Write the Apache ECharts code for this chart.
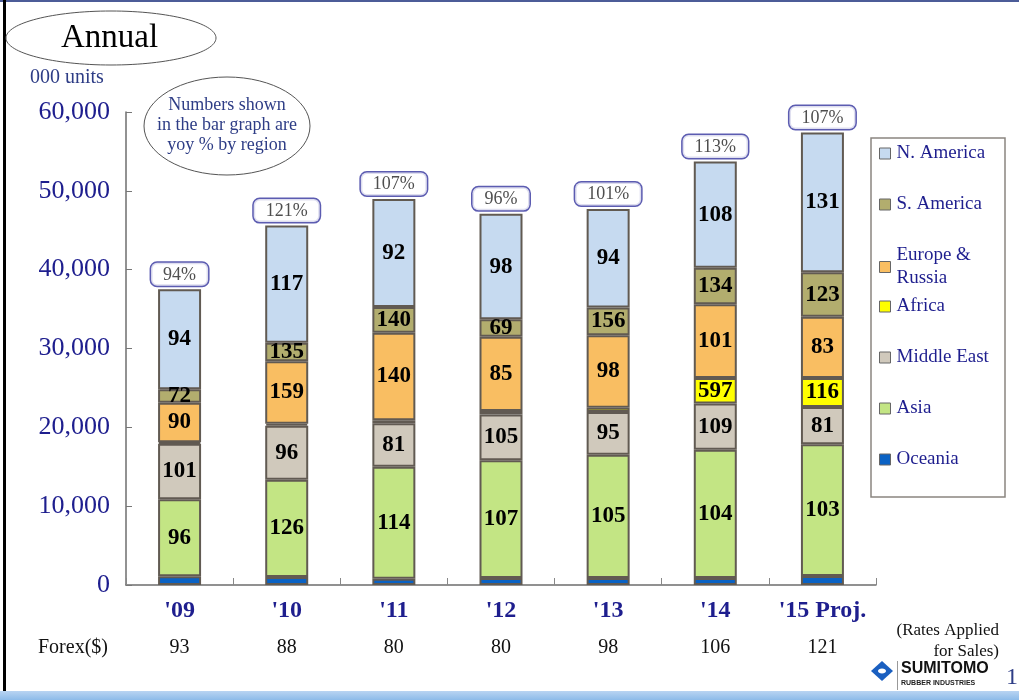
<!DOCTYPE html>
<html>
<head>
<meta charset="utf-8">
<script src="https://cdn.jsdelivr.net/npm/echarts@6/dist/echarts.min.js"></script>
<style>
html,body{margin:0;padding:0;background:#fff;}
#c{width:1019px;height:700px;}
</style>
</head>
<body>
<div id="c"></div>
<script>
// ---- data (000 units) ----
var years = ["'09", "'10", "'11", "'12", "'13", "'14", "'15 Proj."];
var forex = ["93", "88", "80", "80", "98", "106", "121"];
var oceania  = [1100, 1000, 800, 900, 900, 900, 1150];
var asia     = [9770, 12360, 14200, 14910, 15630, 16270, 16690];
var midEast  = [7050, 6840, 5530, 5810, 5410, 5850, 4740];
var africa   = [200, 250, 380, 460, 550, 3250, 3690];
var europe   = [5000, 7940, 11080, 9410, 9190, 9330, 7750];
var sAmerica = [1700, 2330, 3260, 2210, 3520, 4650, 5640];
var nAmerica = [12690, 14870, 13720, 13380, 12490, 13470, 17740];
// yoy % labels by region
var yoyAsia     = [96, 126, 114, 107, 105, 104, 103];
var yoyMidEast  = [101, 96, 81, 105, 95, 109, 81];
var yoyAfrica   = [null, null, null, null, null, 597, 116];
var yoyEurope   = [90, 159, 140, 85, 98, 101, 83];
var yoySAmerica = [72, 135, 140, 69, 156, 134, 123];
var yoyNAmerica = [94, 117, 92, 98, 94, 108, 131];
var yoyTotal    = [94, 121, 107, 96, 101, 113, 107];
var yTicks = [0, 10000, 20000, 30000, 40000, 50000, 60000];

var SERIF = "'Liberation Serif', 'DejaVu Serif', serif";
var NAVY = '#1e1e8e';
var colors = {
  'Oceania': '#0a62c4', 'Asia': '#c3e584', 'Middle East': '#d0c9bc',
  'Africa': '#ffff00', 'Europe & Russia': '#f9be62', 'S. America': '#b2ad6e',
  'N. America': '#c6daf0'
};

var totals = years.map(function (_, i) {
  return oceania[i] + asia[i] + midEast[i] + africa[i] + europe[i] + sAmerica[i] + nAmerica[i];
});

function seg(name, data, yoy) {
  return {
    name: name, type: 'bar', stack: 'all', data: data, barWidth: 43,
    itemStyle: { color: colors[name], borderColor: '#615a52', borderWidth: 2 },
    label: {
      show: !!yoy, position: 'inside', color: '#000', fontFamily: SERIF,
      fontWeight: 'bold', fontSize: 23,
      formatter: function (p) { var v = yoy ? yoy[p.dataIndex] : null; return v == null ? '' : String(v); }
    },
    emphasis: { disabled: true }
  };
}

var series = [
  seg('Oceania', oceania, null),
  seg('Asia', asia, yoyAsia),
  seg('Middle East', midEast, yoyMidEast),
  seg('Africa', africa, yoyAfrica),
  seg('Europe & Russia', europe, yoyEurope),
  seg('S. America', sAmerica, yoySAmerica),
  seg('N. America', nAmerica, yoyNAmerica),
  {
    name: 'total', type: 'scatter', data: totals, symbolSize: 1, z: 10,
    itemStyle: { color: 'rgba(0,0,0,0)' },
    label: {
      show: true, position: 'top', distance: 3,
      formatter: function (p) { return yoyTotal[p.dataIndex] + '%'; },
      fontFamily: SERIF, fontSize: 18, color: '#222', lineHeight: 20,
      backgroundColor: '#fff', borderColor: '#33339e', borderWidth: 1.5,
      borderRadius: 6, padding: [2, 12, 1, 12]
    },
    emphasis: { disabled: true }, silent: true
  }
];

var legendOrder = [
  ['N. America', 142], ['S. America', 193], ['Europe & Russia', 244],
  ['Africa', 295], ['Middle East', 346], ['Asia', 397], ['Oceania', 448]
];
var legends = legendOrder.map(function (it) {
  return {
    data: [it[0]], left: 879, top: it[1], orient: 'vertical', padding: 0,
    itemWidth: 11, itemHeight: 11, icon: 'rect', selectedMode: false,
    itemStyle: { borderColor: '#666', borderWidth: 1 },
    textStyle: { fontFamily: SERIF, fontSize: 19, color: NAVY, lineHeight: 23, padding: [0, 0, 0, 1] },
    formatter: function (n) { return n === 'Europe & Russia' ? 'Europe &\nRussia' : n; }
  };
});

var chart = echarts.init(document.getElementById('c'));
chart.setOption({
  backgroundColor: '#fff',
  animation: false,
  grid: { left: 126, right: 143, top: 112, bottom: 115, containLabel: false },
  legend: legends,
  xAxis: [{
    type: 'category', data: years, position: 'bottom',
    axisLine: { lineStyle: { color: '#6e6e6e', width: 1.5 } },
    axisTick: { show: true, inside: true, length: 7, lineStyle: { color: '#888' } },
    axisLabel: { color: NAVY, fontFamily: SERIF, fontWeight: 'bold', fontSize: 24, margin: 14, interval: 0 }
  }, {
    type: 'category', data: forex, position: 'bottom', offset: 53,
    axisLine: { show: false }, axisTick: { show: false },
    axisLabel: { color: '#111', fontFamily: SERIF, fontSize: 20, margin: 0, interval: 0 }
  }],
  yAxis: {
    type: 'value', min: yTicks[0], max: yTicks[yTicks.length - 1], interval: 10000,
    splitLine: { show: false },
    axisLine: { show: true, lineStyle: { color: '#6e6e6e', width: 1.5 } },
    axisTick: { show: true, inside: true, length: 6, lineStyle: { color: '#777' } },
    axisLabel: {
      color: NAVY, fontFamily: SERIF, fontSize: 26, margin: 16,
      formatter: function (v) { return v.toLocaleString('en-US'); }
    }
  },
  series: series,
  graphic: [
    // frame
    { type: 'rect', shape: { x: 0, y: 0, width: 1019, height: 2 }, style: { fill: '#4c5c98' } },
    { type: 'rect', shape: { x: 3, y: 0, width: 3, height: 700 }, style: { fill: '#000' } },
    { type: 'rect', shape: { x: 0, y: 691, width: 1019, height: 9 },
      style: { fill: new echarts.graphic.LinearGradient(0, 0, 0, 1, [{ offset: 0, color: '#b9d4f2' }, { offset: 1, color: '#8dbbe9' }]) } },
    // title ellipse
    { type: 'ellipse', shape: { cx: 111, cy: 38, rx: 105, ry: 27 }, style: { fill: '#fff', stroke: '#555', lineWidth: 1 } },
    { type: 'text', left: 61, top: 22, style: { text: 'Annual', font: '33px ' + SERIF, fill: '#000' } },
    { type: 'text', left: 30, top: 68, style: { text: '000 units', font: '20px ' + SERIF, fill: '#2e3d86' } },
    // note ellipse
    { type: 'ellipse', shape: { cx: 227, cy: 126, rx: 83, ry: 49 }, style: { fill: '#fff', stroke: '#555', lineWidth: 1 }, z: 5 },
    { type: 'text', x: 227, y: 95, z: 6, style: { text: 'Numbers shown\nin the bar graph are\nyoy % by region', font: '18px ' + SERIF, fill: '#2e3d86', align: 'center', lineHeight: 20 } },
    // legend box
    { type: 'rect', shape: { x: 871, y: 138, width: 134, height: 359 }, style: { fill: 'none', stroke: '#8a8580', lineWidth: 1.5 } },
    // forex label + note
    { type: 'text', left: 38, top: 638, style: { text: 'Forex($)', font: '20px ' + SERIF, fill: '#111' } },
    { type: 'text', x: 999, y: 620, style: { text: '(Rates Applied\nfor Sales)', font: '17px ' + SERIF, fill: '#111', align: 'right', lineHeight: 21 } },
    // logo
    { type: 'polygon', shape: { points: [[882, 661], [893, 671], [882, 681], [871, 671]] }, style: { fill: '#1a5fc0' } },
    { type: 'ellipse', shape: { cx: 882, cy: 671, rx: 4, ry: 2.5 }, style: { fill: '#fff' } },
    { type: 'rect', shape: { x: 897, y: 661, width: 1, height: 29 }, style: { fill: '#999' } },
    { type: 'text', left: 901, top: 661, style: { text: 'SUMITOMO', font: 'bold 16px "Liberation Sans Narrow", "Liberation Sans", sans-serif', fill: '#111' } },
    { type: 'text', left: 901, top: 680, style: { text: 'RUBBER INDUSTRIES', font: 'bold 7px "Liberation Sans Narrow", "Liberation Sans", sans-serif', fill: '#222' } },
    { type: 'text', left: 1006, top: 666, style: { text: '1', font: '24px ' + SERIF, fill: '#2e3d86' } }
  ]
});
</script>
</body>
</html>
